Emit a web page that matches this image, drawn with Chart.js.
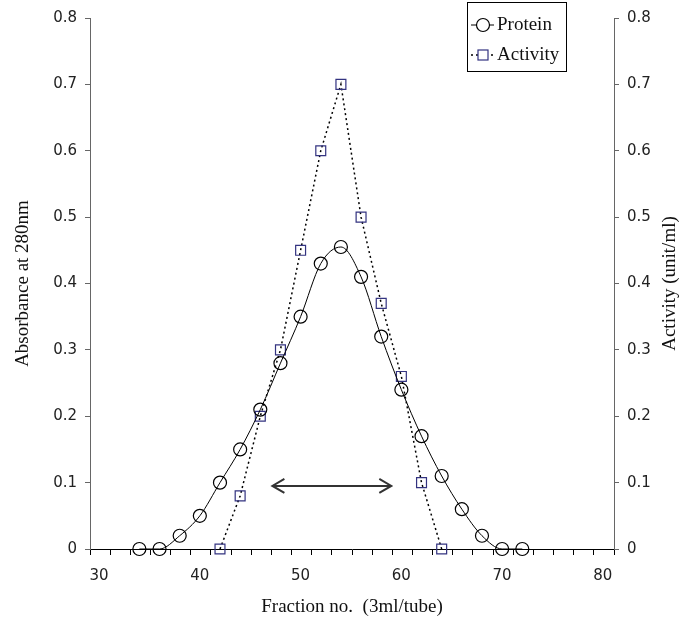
<!DOCTYPE html>
<html>
<head>
<meta charset="utf-8">
<script src="https://cdn.jsdelivr.net/npm/chart.js@4.4.1/dist/chart.umd.min.js"></script>
<style>
  html, body { margin: 0; padding: 0; background: #fff; }
  #wrap { width: 683px; height: 625px; position: relative; }
</style>
</head>
<body>
<div id="wrap"><canvas id="chart" width="683" height="625"></canvas></div>
<script>
// fraction numbers and readings taken off the elution profile
const proteinFractions = [34, 36, 38, 40, 42, 44, 46, 48, 50, 52, 54, 56, 58, 60, 62, 64, 66, 68, 70, 72];
const proteinValues    = [0, 0, 0.02, 0.05, 0.10, 0.15, 0.21, 0.28, 0.35, 0.43, 0.455, 0.41, 0.32, 0.24, 0.17, 0.11, 0.06, 0.02, 0, 0];

const activityFractions = [42, 44, 46, 48, 50, 52, 54, 56, 58, 60, 62, 64];
const activityValues    = [0, 0.08, 0.20, 0.30, 0.45, 0.60, 0.70, 0.50, 0.37, 0.26, 0.10, 0];

// axis labels
const xTickLabels = [30, 40, 50, 60, 70, 80];
const yTickLabels = [0, 0.1, 0.2, 0.3, 0.4, 0.5, 0.6, 0.7, 0.8];

// pooled fractions (the double arrow)
const poolRange = [47.2, 59.0];
const poolLevel = 0.095;

const xTitle = "Fraction no.  (3ml/tube)";
const yTitle = "Absorbance at 280nm";
const y2Title = "Activity (unit/ml)";

// the x axis runs a bit past 30 and 80 and its tick marks sit 0.9 left of the labels
const xMin = 29.1, xMax = 81.1, labelShift = 0.9;

const serif = "'Liberation Serif', 'Times New Roman', serif";
const sans = "'DejaVu Sans', Verdana, sans-serif";
const squareColour = "#333380";

function toPoints(xs, ys) {
  return xs.map((x, i) => ({ x: x, y: ys[i] }));
}

// legend drawn by hand so each row gets a line sample with its marker
const legendPlugin = {
  id: "handLegend",
  afterDraw(chart) {
    const ctx = chart.ctx;
    ctx.save();
    ctx.strokeStyle = "#000";
    ctx.lineWidth = 1;
    ctx.strokeRect(467.5, 2.5, 99, 69);

    const rows = [
      { y: 25, dash: [], marker: "circle", text: chart.data.datasets[0].label },
      { y: 55, dash: [2, 3], marker: "rect", text: chart.data.datasets[1].label },
    ];
    rows.forEach(r => {
      ctx.strokeStyle = "#000";
      ctx.lineWidth = r.dash.length ? 1.5 : 1;
      ctx.setLineDash(r.dash);
      ctx.beginPath();
      ctx.moveTo(471, r.y);
      ctx.lineTo(494, r.y);
      ctx.stroke();
      ctx.setLineDash([]);
      ctx.lineWidth = 1.2;
      if (r.marker === "circle") {
        ctx.strokeStyle = "#000";
        ctx.beginPath();
        ctx.arc(483, r.y, 6.5, 0, Math.PI * 2);
        ctx.fillStyle = "#fff";
        ctx.fill();
        ctx.stroke();
      } else {
        ctx.strokeStyle = squareColour;
        ctx.fillStyle = "#fff";
        ctx.fillRect(478, r.y - 5, 10, 10);
        ctx.strokeRect(478, r.y - 5, 10, 10);
      }
      ctx.fillStyle = "#111";
      ctx.font = "19px " + serif;
      ctx.textBaseline = "middle";
      ctx.textAlign = "left";
      ctx.fillText(r.text, 497, r.y);
    });
    ctx.restore();
  }
};

// double headed arrow over the pooled fractions + the right axis title (reads bottom to top)
const extrasPlugin = {
  id: "extras",
  afterDatasetsDraw(chart) {
    const ctx = chart.ctx;
    const xs = chart.scales.x, ys = chart.scales.y;
    const x1 = xs.getPixelForValue(poolRange[0]);
    const x2 = xs.getPixelForValue(poolRange[1]);
    const y = ys.getPixelForValue(poolLevel);
    ctx.save();
    ctx.strokeStyle = "#333";
    ctx.lineWidth = 2;
    ctx.beginPath();
    ctx.moveTo(x1, y);
    ctx.lineTo(x2, y);
    ctx.moveTo(x1 + 12, y - 7);
    ctx.lineTo(x1, y);
    ctx.lineTo(x1 + 12, y + 7);
    ctx.moveTo(x2 - 12, y - 7);
    ctx.lineTo(x2, y);
    ctx.lineTo(x2 - 12, y + 7);
    ctx.stroke();

    const area = chart.chartArea;
    ctx.translate(670, (area.top + area.bottom) / 2);
    ctx.rotate(-Math.PI / 2);
    ctx.fillStyle = "#111";
    ctx.font = "19px " + serif;
    ctx.textAlign = "center";
    ctx.textBaseline = "middle";
    ctx.fillText(y2Title, 0, 0);
    ctx.restore();
  }
};

function yAxis(position, width) {
  return {
    type: "linear",
    position: position,
    min: 0,
    max: 0.8,
    afterBuildTicks: s => { s.ticks = yTickLabels.map(v => ({ value: v })); },
    afterFit: s => { s.width = width; },
    border: { display: true, color: "#666", width: 1 },
    grid: { drawOnChartArea: false, drawTicks: true, tickLength: 5, tickColor: "#666" },
    ticks: {
      padding: 8,
      color: "#222",
      font: { family: sans, size: 15 },
      callback: v => String(+v.toFixed(1)),
    },
  };
}

const leftAxis = yAxis("left", 90);
leftAxis.title = {
  display: true,
  text: yTitle,
  color: "#111",
  font: { family: serif, size: 19 },
  padding: { top: 12, bottom: 0 },
};

new Chart(document.getElementById("chart"), {
  type: "line",
  data: {
    datasets: [
      {
        label: "Protein",
        data: toPoints(proteinFractions, proteinValues),
        yAxisID: "y",
        borderColor: "#000",
        borderWidth: 1,
        cubicInterpolationMode: "monotone",
        pointStyle: "circle",
        pointRadius: 6.5,
        pointBorderColor: "#000",
        pointBorderWidth: 1.2,
        pointBackgroundColor: "rgba(0,0,0,0)",
        clip: false,
      },
      {
        label: "Activity",
        data: toPoints(activityFractions, activityValues),
        yAxisID: "y2",
        borderColor: "#000",
        borderWidth: 1.5,
        borderDash: [2, 3],
        tension: 0,
        pointStyle: "rect",
        pointRadius: 7,
        pointBorderColor: squareColour,
        pointBorderWidth: 1.2,
        pointBackgroundColor: "rgba(0,0,0,0)",
        clip: false,
      },
    ]
  },
  options: {
    responsive: false,
    animation: false,
    events: [],
    layout: { padding: { top: 18, left: 0, right: 0, bottom: 0 } },
    plugins: { legend: { display: false }, tooltip: { enabled: false } },
    scales: {
      x: {
        type: "linear",
        min: xMin,
        max: xMax,
        afterBuildTicks: s => {
          s.ticks = [];
          for (let k = 0; xMin + 2 * k <= xMax + 1e-6; k++) s.ticks.push({ value: xMin + 2 * k });
        },
        afterFit: s => { s.height = 76; },
        border: { display: true, color: "#000", width: 1 },
        grid: { drawOnChartArea: false, drawTicks: true, tickLength: 6, tickColor: "#000" },
        ticks: {
          autoSkip: false,
          maxRotation: 0,
          padding: 12,
          labelOffset: 9,
          color: "#222",
          font: { family: sans, size: 15 },
          callback: v => {
            const lab = xTickLabels.find(t => Math.abs(t - labelShift - v) < 0.01);
            return lab === undefined ? "" : String(lab);
          },
        },
        title: {
          display: true,
          text: xTitle,
          color: "#111",
          font: { family: serif, size: 19 },
          padding: { top: 0, bottom: 7 },
        },
      },
      y: leftAxis,
      y2: yAxis("right", 69),
    }
  },
  plugins: [legendPlugin, extrasPlugin]
});
</script>
</body>
</html>
